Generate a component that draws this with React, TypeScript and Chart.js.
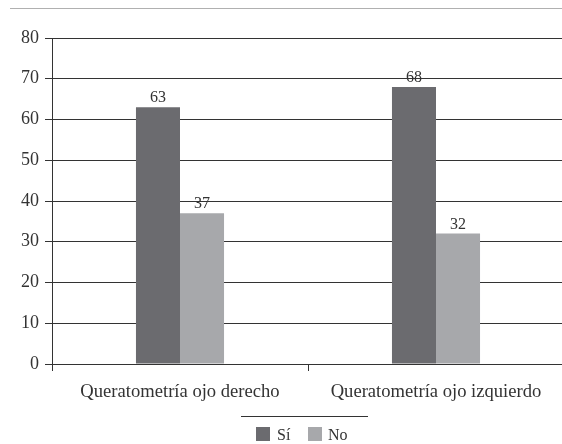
import React, { useEffect, useRef } from "react";
import { Chart, registerables } from "chart.js";

Chart.register(...registerables);

const categories = ["Queratometría ojo derecho", "Queratometría ojo izquierdo"];
const siValues = [63, 68];
const noValues = [37, 32];
const seriesLabels = ["Sí", "No"];
const seriesColors = ["#6b6b6f", "#a7a8ab"];
const yTicks = [0, 10, 20, 30, 40, 50, 60, 70, 80];

const SERIF = "Liberation Serif";

const topRulePlugin = {
  id: "topRule",
  beforeDraw(chart: any) {
    const { ctx } = chart;
    ctx.save();
    ctx.strokeStyle = "#b0b0b0";
    ctx.lineWidth = 1;
    ctx.beginPath();
    ctx.moveTo(10, 8.5);
    ctx.lineTo(562, 8.5);
    ctx.stroke();
    ctx.restore();
  },
};

const valueLabelPlugin = {
  id: "valueLabels",
  afterDatasetsDraw(chart: any) {
    const { ctx } = chart;
    ctx.save();
    ctx.font = `16px "${SERIF}"`;
    ctx.fillStyle = "#333";
    ctx.textAlign = "center";
    ctx.textBaseline = "alphabetic";
    chart.data.datasets.forEach((ds: any, i: number) => {
      const meta = chart.getDatasetMeta(i);
      meta.data.forEach((bar: any, j: number) => {
        ctx.fillText(String(ds.data[j]), bar.x, bar.y - 5);
      });
    });
    ctx.restore();
  },
};

const bottomLegendPlugin = {
  id: "bottomLegend",
  afterDraw(chart: any) {
    const { ctx } = chart;
    ctx.save();
    ctx.strokeStyle = "#333";
    ctx.lineWidth = 1;
    ctx.beginPath();
    ctx.moveTo(241, 416.5);
    ctx.lineTo(368, 416.5);
    ctx.stroke();
    ctx.font = `16px "${SERIF}"`;
    ctx.textBaseline = "alphabetic";
    ctx.textAlign = "left";
    const boxStarts = [256, 308];
    const textStarts = [277, 328];
    chart.data.datasets.forEach((ds: any, i: number) => {
      ctx.fillStyle = ds.backgroundColor;
      ctx.fillRect(boxStarts[i], 427, 14, 14);
      ctx.fillStyle = "#333";
      ctx.fillText(ds.label, textStarts[i], 440);
    });
    ctx.restore();
  },
};

export default function App() {
  const canvasRef = useRef<HTMLCanvasElement | null>(null);

  useEffect(() => {
    if (!canvasRef.current) return;
    const chart = new Chart(canvasRef.current, {
      type: "bar",
      data: {
        labels: categories,
        datasets: [
          { label: seriesLabels[0], data: siValues, backgroundColor: seriesColors[0] },
          { label: seriesLabels[1], data: noValues, backgroundColor: seriesColors[1] },
        ],
      },
      options: {
        animation: false,
        responsive: false,
        layout: { padding: { top: 38, right: 0, bottom: 0, left: 0 } },
        plugins: {
          legend: { display: false },
          tooltip: { enabled: false },
        },
        datasets: {
          bar: { categoryPercentage: 0.344, barPercentage: 1 },
        },
        scales: {
          x: {
            offset: true,
            grid: {
              offset: true,
              drawOnChartArea: false,
              drawTicks: true,
              tickLength: 7,
              color: "#333",
            },
            border: { display: true, color: "#333", width: 1 },
            ticks: {
              padding: 10,
              color: "#333",
              font: { family: SERIF, size: 18.6 },
            },
            afterFit(scale: any) {
              scale.height = 80;
            },
          },
          y: {
            min: 0,
            max: 80,
            afterBuildTicks(scale: any) {
              scale.ticks = yTicks.map((v) => ({ value: v }));
            },
            grid: {
              color: "#333",
              lineWidth: 1,
              drawTicks: true,
              tickLength: 7,
            },
            border: { display: true, color: "#333", width: 1 },
            ticks: {
              padding: 6,
              color: "#333",
              font: { family: SERIF, size: 18 },
            },
            afterFit(scale: any) {
              scale.width = 52;
            },
          },
        },
      },
      plugins: [topRulePlugin, valueLabelPlugin, bottomLegendPlugin],
    });
    return () => chart.destroy();
  }, []);

  return (
    <div
      style={{
        position: "fixed",
        left: 0,
        top: 0,
        width: 562,
        height: 444,
        overflow: "hidden",
        background: "#fff",
      }}
    >
      <canvas ref={canvasRef} width={564} height={444} style={{ display: "block" }} />
    </div>
  );
}
